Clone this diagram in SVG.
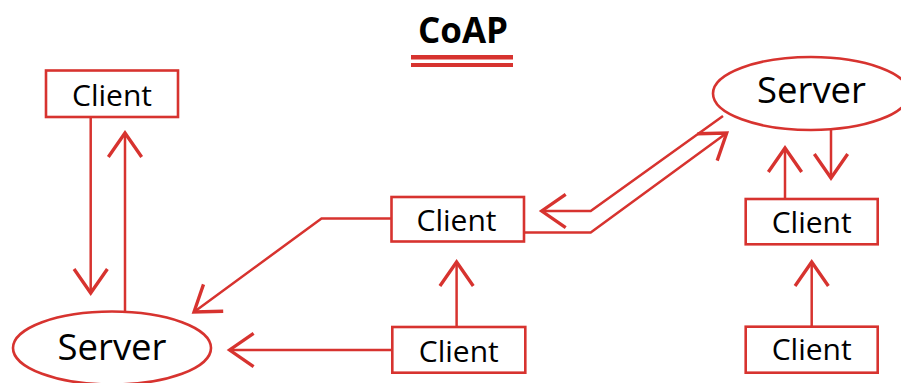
<svg xmlns="http://www.w3.org/2000/svg" width="901" height="383" viewBox="0 0 901 383">
<style>
.box{fill:#fff;stroke:#d7332f;stroke-width:2.6}
.lbl{font-family:"Open Sans","Liberation Sans",sans-serif;fill:#000;text-anchor:middle}
.c{font-size:30px}
.s{font-size:36.5px}
.conn path{fill:none;stroke:#d7332f;stroke-width:2.5;marker-end:url(#arr)}
</style>
<defs>
<marker id="arr" markerUnits="userSpaceOnUse" orient="auto" refX="0" refY="0" markerWidth="40" markerHeight="40" viewBox="-20 -15 22 30" overflow="visible">
<path d="M-18,-12.5 L0,0 L-18,12.5" fill="none" stroke="#d7332f" stroke-width="2.5"/>
</marker>
</defs>
<rect width="901" height="383" fill="#fff"/>
<g id="title">
<text class="lbl" x="463" y="43" style="font-size:35px;font-weight:bold">CoAP</text>
<rect x="411" y="55" width="102" height="4.5" fill="#d7332f"/>
<rect x="411" y="63" width="102" height="4" fill="#d7332f"/>
</g>
<g class="conn" id="connectors">
<path d="M90.7,117 V293"/>
<path d="M125,312 V133"/>
<path d="M391.5,218.5 H321.5 L194,312"/>
<path d="M392,350 H229.6"/>
<path d="M456.6,327 V262"/>
<path d="M723,116 L590.7,211 H541.7"/>
<path d="M524,232.5 H590.7 L726.7,133"/>
<path d="M785,199 V148"/>
<path d="M831,129.5 V178"/>
<path d="M811.7,327 V262"/>
</g>
<g id="server-left">
<ellipse class="box" cx="112" cy="348" rx="99" ry="36.5"/>
<text class="lbl s" x="112" y="360">Server</text>
</g>
<g id="server-right">
<ellipse class="box" cx="811" cy="93.5" rx="98" ry="36.5"/>
<text class="lbl s" x="811.5" y="103">Server</text>
</g>
<g id="client-topleft">
<rect class="box" x="46" y="70.5" width="132" height="46.5"/>
<text class="lbl c" x="112" y="106">Client</text>
</g>
<g id="client-mid">
<rect class="box" x="391.5" y="197" width="132.5" height="44.5"/>
<text class="lbl c" x="456.5" y="230.7">Client</text>
</g>
<g id="client-midbottom">
<rect class="box" x="392.3" y="327" width="133" height="45.7"/>
<text class="lbl c" x="458.8" y="361.5">Client</text>
</g>
<g id="client-righttop">
<rect class="box" x="745.7" y="199" width="132" height="45.3"/>
<text class="lbl c" x="811.7" y="233">Client</text>
</g>
<g id="client-rightbottom">
<rect class="box" x="745.7" y="326.7" width="132" height="46"/>
<text class="lbl c" x="811.7" y="360">Client</text>
</g>
</svg>
